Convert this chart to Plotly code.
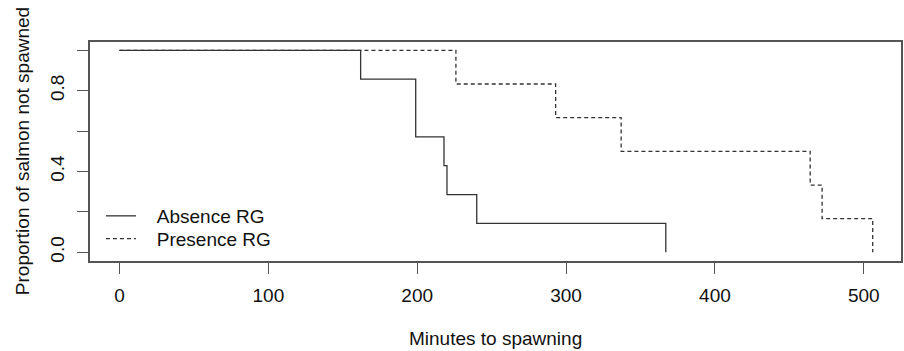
import plotly.graph_objects as go

# Kaplan-Meier style step data
absence_time = [0, 162, 199, 218, 220, 240, 367]
absence_surv = [1.0, 0.857, 0.571, 0.429, 0.286, 0.143, 0.0]

presence_time = [0, 226, 293, 337, 464, 472, 506]
presence_surv = [1.0, 0.833, 0.667, 0.5, 0.333, 0.167, 0.0]

series_names = ["Absence RG", "Presence RG"]

x_ticks = [0, 100, 200, 300, 400, 500]
y_ticks = [0.0, 0.2, 0.4, 0.6, 0.8, 1.0]
y_ticklabels = ["0.0", "", "0.4", "", "0.8", ""]

FONT = "Liberation Sans, Arial, sans-serif"
LINE = "#333333"
AX = "#555555"
FS = 19
PAD = "\u00a0\u00a0\u00a0"

fig = go.Figure()
fig.add_trace(go.Scatter(
    x=presence_time, y=presence_surv, mode="lines", name=PAD + series_names[1],
    line=dict(shape="hv", color=LINE, width=1.3, dash="4px,3px"), legend="legend2",
))
fig.add_trace(go.Scatter(
    x=absence_time, y=absence_surv, mode="lines", name=PAD + series_names[0],
    line=dict(shape="hv", color=LINE, width=1.3), legend="legend",
))

leg_common = dict(xanchor="left", yanchor="middle", bgcolor="rgba(0,0,0,0)",
                  borderwidth=0, font=dict(size=FS), itemwidth=30)

fig.update_layout(
    width=904, height=351,
    margin=dict(l=90, r=1, t=42, b=90),
    paper_bgcolor="white", plot_bgcolor="white",
    font=dict(family=FONT, size=FS, color="#111111"),
    showlegend=True,
    legend=dict(x=0.0135, y=0.2055, **leg_common),
    legend2=dict(x=0.0135, y=0.1018, **leg_common),
    xaxis=dict(
        range=[-19.8, 525], tickvals=x_ticks, ticktext=[str(v) for v in x_ticks],
        showgrid=False, zeroline=False, showline=True, mirror=True,
        linecolor=AX, linewidth=1.5, ticks="outside", ticklen=11,
        tickcolor=AX, tickwidth=1.3, ticklabelstandoff=5,
        tickfont=dict(size=FS, color="#111111"),
    ),
    yaxis=dict(
        range=[-0.043, 1.041], tickvals=y_ticks, ticktext=y_ticklabels,
        showgrid=False, zeroline=False, showline=True, mirror=True,
        linecolor=AX, linewidth=1.5, ticks="outside", ticklen=11,
        tickcolor=AX, tickwidth=1.3, tickangle=-90, ticklabelstandoff=6,
        tickfont=dict(size=FS, color="#111111"),
    ),
    annotations=[
        dict(text="Minutes to spawning", xref="paper", yref="paper",
             x=0.5, y=-0.355, xanchor="center", yanchor="middle",
             showarrow=False, font=dict(size=FS)),
        dict(text="Proportion of salmon not spawned", xref="paper", yref="paper",
             x=-0.083, y=0.5, xanchor="center", yanchor="middle",
             textangle=-90, showarrow=False, font=dict(size=FS)),
    ],
)

fig.write_html("out.html")
